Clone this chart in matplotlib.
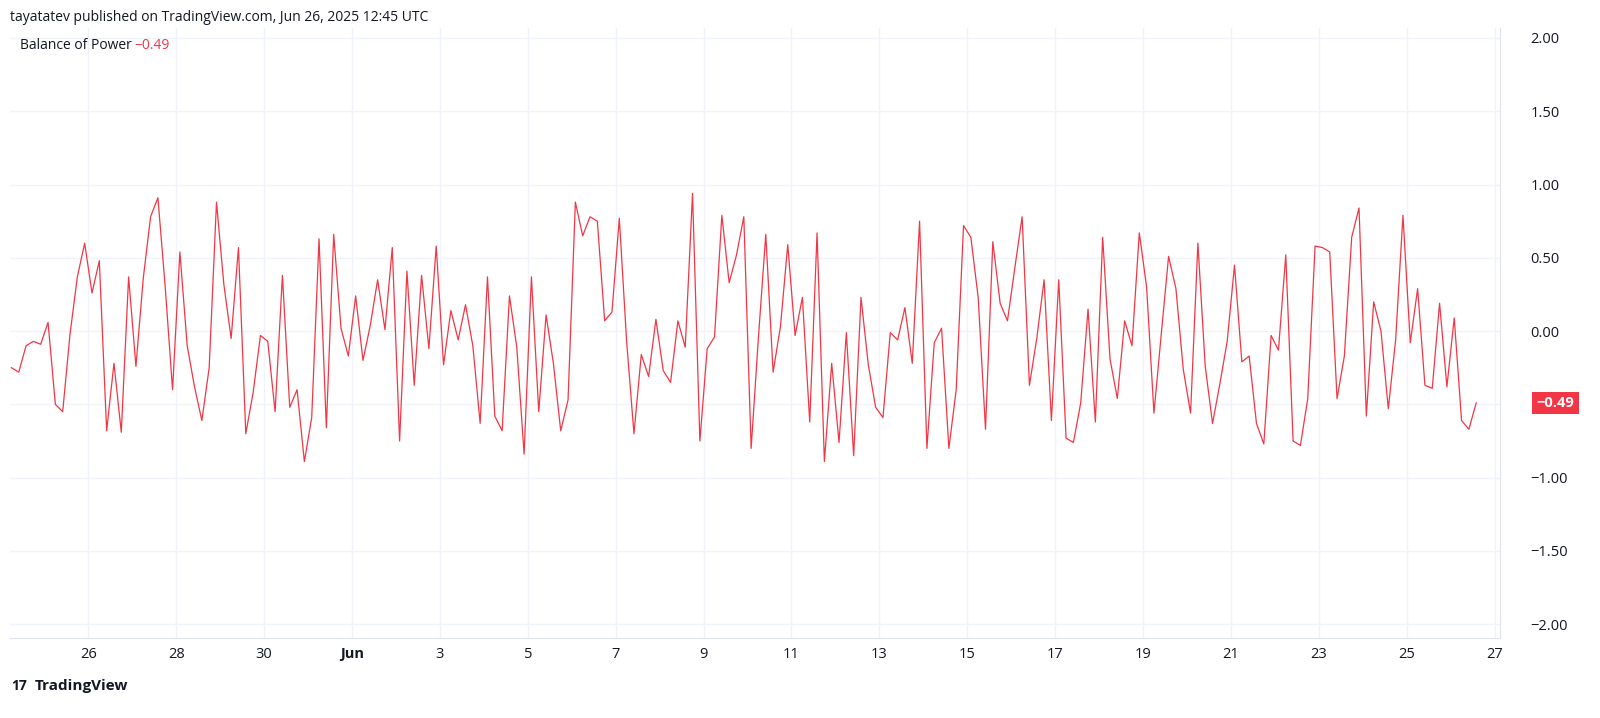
import numpy as np
import pandas as pd
import matplotlib
matplotlib.use("Agg")
import matplotlib.pyplot as plt

# Balance of Power, 4h bars
bop = [-0.25, -0.28, -0.10, -0.07, -0.09, 0.06, -0.50, -0.55, -0.02, 0.37, 0.60, 0.26, 0.48,
       -0.68, -0.22, -0.69, 0.37, -0.24, 0.36, 0.78, 0.91, 0.30, -0.40, 0.54, -0.10, -0.38,
       -0.61, -0.25, 0.88, 0.32, -0.05, 0.57, -0.70, -0.42, -0.03, -0.07, -0.55, 0.38, -0.52,
       -0.40, -0.89, -0.59, 0.63, -0.66, 0.66, 0.02, -0.17, 0.24, -0.20, 0.04, 0.35, 0.01,
       0.57, -0.75, 0.41, -0.37, 0.38, -0.12, 0.58, -0.23, 0.14, -0.06, 0.18, -0.10, -0.63,
       0.37, -0.58, -0.68, 0.24, -0.11, -0.84, 0.37, -0.55, 0.11, -0.22, -0.68, -0.47, 0.88,
       0.65, 0.78, 0.75, 0.07, 0.13, 0.77, -0.07, -0.70, -0.16, -0.31, 0.08, -0.27, -0.35,
       0.07, -0.11, 0.94, -0.75, -0.12, -0.04, 0.79, 0.33, 0.52, 0.78, -0.80, -0.04, 0.66,
       -0.28, 0.03, 0.59, -0.03, 0.23, -0.62, 0.67, -0.89, -0.22, -0.76, -0.01, -0.85, 0.23,
       -0.23, -0.52, -0.59, -0.01, -0.06, 0.16, -0.22, 0.75, -0.80, -0.08, 0.02, -0.80, -0.40,
       0.72, 0.64, 0.23, -0.67, 0.61, 0.19, 0.07, 0.43, 0.78, -0.37, -0.05, 0.35, -0.61, 0.35,
       -0.73, -0.76, -0.49, 0.15, -0.62, 0.64, -0.19, -0.46, 0.07, -0.10, 0.67, 0.30, -0.56,
       -0.02, 0.51, 0.29, -0.26, -0.56, 0.60, -0.24, -0.63, -0.36, -0.07, 0.45, -0.21, -0.17,
       -0.63, -0.77, -0.03, -0.13, 0.52, -0.75, -0.78, -0.46, 0.58, 0.57, 0.54, -0.46, -0.17,
       0.64, 0.84, -0.58, 0.20, 0.00, -0.53, -0.06, 0.79, -0.08, 0.29, -0.37, -0.39, 0.19,
       -0.38, 0.09, -0.61, -0.67, -0.49]
times = pd.date_range("2025-05-24 06:00", periods=len(bop), freq="4h")
y_ticks = [2.0, 1.5, 1.0, 0.5, 0.0, -0.5, -1.0, -1.5, -2.0]
x_ticks = pd.to_datetime(["2025-05-26", "2025-05-28", "2025-05-30", "2025-06-01", "2025-06-03",
                          "2025-06-05", "2025-06-07", "2025-06-09", "2025-06-11", "2025-06-13",
                          "2025-06-15", "2025-06-17", "2025-06-19", "2025-06-21", "2025-06-23",
                          "2025-06-25", "2025-06-27"])
x_labels = ["26", "28", "30", "Jun", "3", "5", "7", "9", "11", "13", "15", "17", "19", "21",
            "23", "25", "27"]

RED = "#f23645"
TXT = "#131722"
plt.rcParams["font.family"] = ["Open Sans", "DejaVu Sans"]

fig = plt.figure(figsize=(16, 7.18), dpi=100)
ax = fig.add_axes([0.006, 0.111, 0.9315, 0.85])
ax.plot(times, bop, color=RED, lw=0.9)

ax.set_ylim(-2.096, 2.068)
ax.set_xlim(pd.Timestamp("2025-05-24 05:00"), pd.Timestamp("2025-06-27 03:00"))
ax.set_yticks(y_ticks)
# the -0.50 label is hidden behind the last-value badge
ax.set_yticklabels(["" if v == -0.5 else f"{v:.2f}".replace("-", "−") for v in y_ticks])
ax.set_xticks(x_ticks)
ax.set_xticklabels(x_labels)
for lab in ax.get_xticklabels():
    if lab.get_text() == "Jun":
        lab.set_fontweight("bold")
ax.yaxis.tick_right()
ax.tick_params(axis="both", length=0, labelsize=10.5, colors=TXT)
ax.tick_params(axis="y", pad=22)
ax.tick_params(axis="x", pad=6)
ax.grid(color="#f0f3fa", lw=1)
for s in ["top", "left"]:
    ax.spines[s].set_visible(False)
ax.spines["right"].set_color("#e0e3eb")
ax.spines["bottom"].set_color("#e0e3eb")

# last value marker
ax.annotate("−0.49", xy=(1.0, bop[-1]), xycoords=("axes fraction", "data"),
            xytext=(40, 0), textcoords="offset points", ha="center", va="center",
            color="white", fontsize=10.5, fontweight="bold",
            bbox=dict(boxstyle="square,pad=0.3", fc=RED, ec="none"), annotation_clip=False)

fig.text(0.006, 0.975, "tayatatev published on TradingView.com, Jun 26, 2025 12:45 UTC",
         fontsize=10, color=TXT, va="center")
fig.text(0.0125, 0.936, "Balance of Power", fontsize=10, color=TXT, va="center")
fig.text(0.084, 0.936, "−0.49", fontsize=10, color=RED, va="center")
fig.text(0.022, 0.045, "TradingView", fontsize=11, fontweight="bold", color=TXT, va="center")
fig.text(0.007, 0.045, "17", fontsize=10, fontweight="bold", color=TXT, va="center")

fig.savefig("out.png", dpi=100)
